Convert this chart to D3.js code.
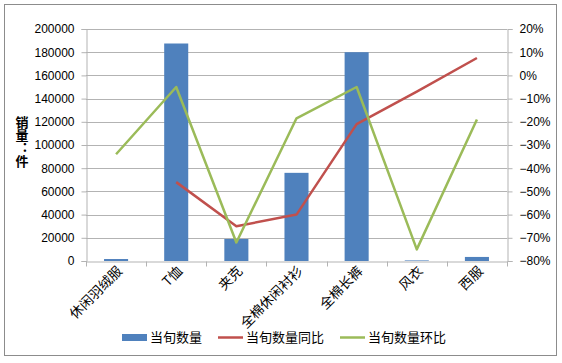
<!DOCTYPE html>
<html>
<head>
<meta charset="utf-8">
<script src="https://cdn.jsdelivr.net/npm/d3@7"></script>
<style>
  html, body { margin: 0; padding: 0; background: #fff; }
</style>
</head>
<body>
<div id="chart"></div>
<script>
const categories = ['休闲羽绒服', 'T恤', '夹克', '全棉休闲衬衫', '全棉长裤', '风衣', '西服']
const quantity = [1700, 187500, 19000, 76000, 180000, 500, 3500]
const yoy = [null, -0.46, -0.65, -0.60, -0.21, -0.07, 0.075]
const mom = [-0.34, -0.05, -0.72, -0.185, -0.05, -0.75, -0.19]
const leftTicks = [0, 20000, 40000, 60000, 80000, 100000, 120000, 140000, 160000, 180000, 200000]
const rightTicks = [-0.8, -0.7, -0.6, -0.5, -0.4, -0.3, -0.2, -0.1, 0, 0.1, 0.2]
const legendNames = ['当旬数量', '当旬数量同比', '当旬数量环比']

const width = 562
const height = 363
const marginLeft = 86
const marginRight = 55
const marginTop = 29
const marginBottom = 102

const blue = '#4F81BD'
const red = '#C0504D'
const green = '#9BBB59'
const grid = '#b3b3b3'
const numFont = '"Liberation Sans", Arial, sans-serif'
const cjkFont = '"Noto Sans CJK SC", sans-serif'

const x = d3.scaleBand()
  .domain(categories)
  .range([marginLeft, width - marginRight])
  .paddingInner(0.6)
  .paddingOuter(0.3)

const xOuter = d3.scaleBand()
  .domain(categories)
  .range([marginLeft, width - marginRight])

const y = d3.scaleLinear()
  .domain([0, 200000])
  .range([height - marginBottom, marginTop])

const y2 = d3.scaleLinear()
  .domain([-0.8, 0.2])
  .range([height - marginBottom, marginTop])

const svg = d3.create('svg:svg')
  .attr('width', width)
  .attr('height', height)
  .attr('viewBox', [0, 0, width, height])

svg.append('rect')
  .attr('x', 4.5).attr('y', 4.5)
  .attr('width', 552).attr('height', 351)
  .attr('fill', 'white')
  .attr('stroke', '#8c8c8c')
  .attr('stroke-width', 1)

// gridlines
svg.append('g')
  .selectAll('line')
  .data(leftTicks.slice(1))
  .join('line')
  .attr('x1', marginLeft)
  .attr('x2', width - marginRight)
  .attr('y1', d => Math.round(y(d)) + 0.5)
  .attr('y2', d => Math.round(y(d)) + 0.5)
  .attr('stroke', grid)

const yAxis = d3.axisLeft(y).tickValues(leftTicks).tickSize(5).tickPadding(7).tickFormat(d3.format('d'))
const yAxis2 = d3.axisRight(y2).tickValues(rightTicks).tickSize(5).tickPadding(7).tickFormat(d3.format('.0%'))
const xAxis = d3.axisBottom(xOuter).tickSize(0).tickFormat('')

svg.append('g')
  .attr('transform', `translate(${marginLeft + 0.5}, 0)`)
  .call(yAxis)
  .attr('font-family', numFont)
  .attr('font-size', 12)
  .call(g => g.selectAll('path, line').attr('stroke', grid))
  .call(g => g.selectAll('text').attr('fill', '#000'))

svg.append('g')
  .attr('transform', `translate(${width - marginRight + 0.5}, 0)`)
  .call(yAxis2)
  .attr('font-family', numFont)
  .attr('font-size', 12)
  .call(g => g.selectAll('path, line').attr('stroke', grid))
  .call(g => g.selectAll('text').attr('fill', '#000'))

// bars
svg.append('g')
  .selectAll('rect')
  .data(quantity)
  .join('rect')
  .attr('x', (d, i) => x(categories[i]))
  .attr('y', d => y(d))
  .attr('width', x.bandwidth())
  .attr('height', d => y(0) - y(d))
  .attr('fill', blue)

// x axis baseline and ticks
const gx = svg.append('g')
  .attr('transform', `translate(0, ${Math.round(y(0)) + 0.5})`)
  .call(xAxis)
  .call(g => g.select('.domain').attr('stroke', grid))

gx.selectAll('.tick').remove()
gx.selectAll('.sep')
  .data(categories.concat(['end']))
  .join('line')
  .attr('x1', (d, i) => Math.round(marginLeft + i * xOuter.bandwidth()) + 0.5)
  .attr('x2', (d, i) => Math.round(marginLeft + i * xOuter.bandwidth()) + 0.5)
  .attr('y1', 0)
  .attr('y2', 5)
  .attr('stroke', grid)

const cx = c => xOuter(c) + xOuter.bandwidth() / 2

const line = d3.line()
  .defined(d => d[1] !== null)
  .x(d => cx(d[0]))
  .y(d => y2(d[1]))

svg.append('path')
  .attr('fill', 'none')
  .attr('stroke', red)
  .attr('stroke-width', 2.5)
  .attr('stroke-linejoin', 'round')
  .attr('d', line(categories.map((c, i) => [c, yoy[i]])))

svg.append('path')
  .attr('fill', 'none')
  .attr('stroke', green)
  .attr('stroke-width', 2.5)
  .attr('stroke-linejoin', 'round')
  .attr('d', line(categories.map((c, i) => [c, mom[i]])))

// x labels
svg.append('g')
  .selectAll('text')
  .data(categories)
  .join('text')
  .attr('transform', d => `translate(${cx(d) + 7}, ${y(0) + 11}) rotate(-45)`)
  .attr('text-anchor', 'end')
  .attr('font-family', cjkFont)
  .attr('font-size', 13.5)
  .attr('fill', '#000')
  .text(d => d)

// y title, set vertically
svg.append('text')
  .attr('x', 22)
  .attr('y', 116)
  .attr('font-family', cjkFont)
  .attr('font-size', 13)
  .attr('font-weight', 'bold')
  .style('writing-mode', 'vertical-rl')
  .text('销量：件')

// legend
const legend = svg.append('g')
  .attr('font-family', cjkFont)
  .attr('font-size', 13)

const legendX = [122, 218, 340]
const legendColors = [blue, red, green]

legend.selectAll('rect')
  .data([0])
  .join('rect')
  .attr('x', legendX[0])
  .attr('y', 334)
  .attr('width', 25)
  .attr('height', 7)
  .attr('fill', blue)

legend.selectAll('line')
  .data([1, 2])
  .join('line')
  .attr('x1', i => legendX[i])
  .attr('x2', i => legendX[i] + 25)
  .attr('y1', 337.5)
  .attr('y2', 337.5)
  .attr('stroke', i => legendColors[i])
  .attr('stroke-width', 2.5)

legend.selectAll('text')
  .data(legendNames)
  .join('text')
  .attr('x', (d, i) => legendX[i] + 28)
  .attr('y', 342)
  .attr('fill', '#000')
  .text(d => d)

d3.select('#chart').append(() => svg.node())
</script>
</body>
</html>
